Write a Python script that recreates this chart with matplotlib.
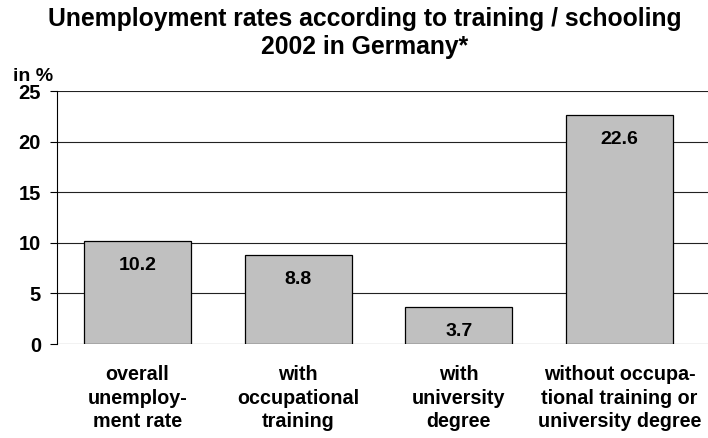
import matplotlib.pyplot as plt
from matplotlib import rcParams

rcParams['font.family'] = 'sans-serif'
rcParams['font.sans-serif'] = ['Liberation Sans', 'Arial', 'DejaVu Sans']
rcParams['font.weight'] = 'bold'

# Arbeitslosenquoten nach Qualifikation, 2002
categorias = ["overall\nunemploy-\nment rate",
              "with\noccupational\ntraining",
              "with\nuniversity\ndegree",
              "without occupa-\ntional training or\nuniversity degree"]
tasas = [10.2, 8.8, 3.7, 22.6]
ticks_y = [0, 5, 10, 15, 20, 25]

COLOR_BARRA = "#c0c0c0"
COLOR_LINEA = "#000000"

fig = plt.figure(figsize=(7.08, 4.38), dpi=100)
ax = fig.add_axes([0.0805, 0.2146, 0.9195, 0.5776])

x = range(len(tasas))
ax.bar(x, tasas, width=0.666, color=COLOR_BARRA, edgecolor=COLOR_LINEA,
       linewidth=0.9, zorder=3)

for xi, v in zip(x, tasas):
    ax.annotate(f"{v:.1f}", xy=(xi, v), xytext=(0, -11.5), textcoords="offset points",
                ha="center", va="top", fontsize=14, fontweight="bold", zorder=4)

ax.set_xlim(-0.5, 3.551)
ax.set_ylim(0, 25)
ax.set_yticks(ticks_y)
ax.set_yticklabels([str(t) for t in ticks_y], fontsize=14.5, fontweight="bold")
ax.grid(axis="y", color="#222222", linewidth=0.8, zorder=0)
ax.tick_params(axis="y", direction="out", length=5, width=0.8, pad=6.5)

ax.set_xticks(list(x))
ax.set_xticklabels(categorias, fontsize=14.2, fontweight="bold", linespacing=1.32)
ax.tick_params(axis="x", length=0, pad=15)

for lado in ["top", "right", "bottom"]:
    ax.spines[lado].set_visible(False)
ax.spines["left"].set_color(COLOR_LINEA)
ax.spines["left"].set_linewidth(0.8)

fig.text(0.515, 0.985, "Unemployment rates according to training / schooling\n2002 in Germany*",
         ha="center", va="top", fontsize=17.8, fontweight="bold", linespacing=1.22)
fig.text(0.018, 0.826, "in %", ha="left", va="center", fontsize=14, fontweight="bold")

fig.savefig("out.png", dpi=100, facecolor="white")
